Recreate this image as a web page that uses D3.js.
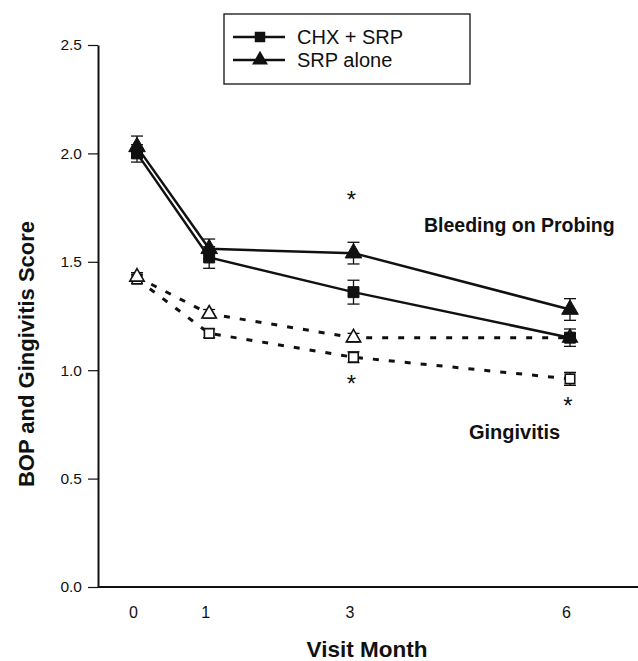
<!DOCTYPE html>
<html>
<head>
<meta charset="utf-8">
<script src="https://cdn.jsdelivr.net/npm/d3@7"></script>
<style>
  body { margin: 0; background: #fff; }
  svg text { font-family: "Liberation Sans", Arial, sans-serif; fill: #111; }
</style>
</head>
<body>
<div id="chart"></div>
<script>
// visit months and tick labels
const months = [0, 1, 3, 6]
const yTicks = [0, 0.5, 1.0, 1.5, 2.0, 2.5]

// bleeding on probing (solid markers)
const chxBop = [2.00, 1.52, 1.36, 1.15]
const chxBopErr = [0.04, 0.05, 0.055, 0.04]
const srpBop = [2.03, 1.56, 1.54, 1.28]
const srpBopErr = [0.05, 0.045, 0.05, 0.05]

// gingivitis (open markers)
const chxGing = [1.42, 1.17, 1.06, 0.96]
const chxGingErr = [0.02, 0.02, 0.025, 0.03]
const srpGing = [1.43, 1.26, 1.15, 1.15]
const srpGingErr = [0.02, 0.02, 0.02, 0.02]

// significance stars: [month, value]
const stars = [[3, 1.80], [3, 0.95], [6, 0.85]]

const legendNames = ['CHX + SRP', 'SRP alone']

const W = 638, H = 661
const svg = d3.select('#chart').append('svg')
  .attr('width', W).attr('height', H)

const x = d3.scaleLinear().domain([0, 6]).range([137, 570])
const y = d3.scaleLinear().domain([0, 2.5]).range([587, 45])
const axisX = 98

// y axis
const gy = svg.append('g')
  .attr('transform', `translate(${axisX},0)`)
  .call(d3.axisLeft(y).tickValues(yTicks).tickFormat(d3.format('.1f'))
    .tickSize(10).tickPadding(6).tickSizeOuter(0))
gy.select('.domain').attr('stroke', '#111').attr('stroke-width', 2)
gy.selectAll('.tick line').attr('stroke', '#111').attr('stroke-width', 1.2)
gy.selectAll('.tick text').style('font-size', '15.5px').attr('fill', '#222')

// x axis: long baseline, labels only
svg.append('line')
  .attr('x1', axisX).attr('x2', 638)
  .attr('y1', y(0)).attr('y2', y(0))
  .attr('stroke', '#111').attr('stroke-width', 2)
const gx = svg.append('g')
  .attr('transform', `translate(-4,${y(0)})`)
  .call(d3.axisBottom(x).tickValues(months).tickFormat(d3.format('d'))
    .tickSize(0).tickPadding(20))
gx.select('.domain').remove()
gx.selectAll('.tick text').style('font-size', '16px').attr('fill', '#222')

// axis titles
svg.append('text')
  .attr('x', 367).attr('y', 657)
  .attr('text-anchor', 'middle')
  .style('font-size', '22.5px').style('font-weight', 'bold')
  .text('Visit Month')
svg.append('text')
  .attr('transform', 'translate(34,354) rotate(-90)')
  .attr('text-anchor', 'middle')
  .style('font-size', '22px').style('font-weight', 'bold')
  .text('BOP and Gingivitis Score')

const line = d3.line().x((d, i) => x(months[i])).y(d => y(d))

function drawSeries(vals, errs, shape, open, dashed) {
  svg.append('path')
    .datum(vals)
    .attr('d', line)
    .attr('fill', 'none')
    .attr('stroke', '#111')
    .attr('stroke-width', dashed ? 3 : 2.5)
    .attr('stroke-dasharray', dashed ? '6,10' : null)

  const g = svg.append('g')
  vals.forEach((v, i) => {
    const cx = x(months[i])
    const e = errs[i]
    g.append('line')
      .attr('x1', cx).attr('x2', cx)
      .attr('y1', y(v - e)).attr('y2', y(v + e))
      .attr('stroke', '#111').attr('stroke-width', 1.3)
    ;[v - e, v + e].forEach(t => {
      g.append('line')
        .attr('x1', cx - 6).attr('x2', cx + 6)
        .attr('y1', y(t)).attr('y2', y(t))
        .attr('stroke', '#111').attr('stroke-width', 1.3)
    })
    g.append('path')
      .attr('d', d3.symbol().type(shape).size(open ? 90 : 120)())
      .attr('transform', `translate(${cx},${y(v)})`)
      .attr('fill', open ? '#fff' : '#111')
      .attr('stroke', '#111')
      .attr('stroke-width', open ? 1.6 : 1)
  })
}

drawSeries(chxGing, chxGingErr, d3.symbolSquare, true, true)
drawSeries(srpGing, srpGingErr, d3.symbolTriangle, true, true)
drawSeries(chxBop, chxBopErr, d3.symbolSquare, false, false)
drawSeries(srpBop, srpBopErr, d3.symbolTriangle, false, false)

// stars
svg.selectAll('.star').data(stars).enter().append('text')
  .attr('x', d => x(d[0]) - 2).attr('y', d => y(d[1]) + 11)
  .attr('text-anchor', 'middle')
  .style('font-size', '24px')
  .text('*')

// annotations
svg.append('text').attr('x', 424).attr('y', 232)
  .style('font-size', '19.5px').style('font-weight', 'bold')
  .text('Bleeding on Probing')
svg.append('text').attr('x', 469).attr('y', 439)
  .style('font-size', '20px').style('font-weight', 'bold')
  .text('Gingivitis')

// legend
const lg = svg.append('g')
lg.append('rect')
  .attr('x', 224).attr('y', 14).attr('width', 246).attr('height', 70)
  .attr('fill', '#fff').attr('stroke', '#111').attr('stroke-width', 1.3)
const legShapes = [d3.symbolSquare, d3.symbolTriangle]
legendNames.forEach((name, i) => {
  const ly = 37 + i * 23
  lg.append('line')
    .attr('x1', 233).attr('x2', 285).attr('y1', ly).attr('y2', ly)
    .attr('stroke', '#111').attr('stroke-width', 2.5)
  lg.append('path')
    .attr('d', d3.symbol().type(legShapes[i]).size(110)())
    .attr('transform', `translate(260,${ly})`)
    .attr('fill', '#111')
  lg.append('text')
    .attr('x', 297).attr('y', ly + 7)
    .style('font-size', '20px')
    .text(name)
})
</script>
</body>
</html>
